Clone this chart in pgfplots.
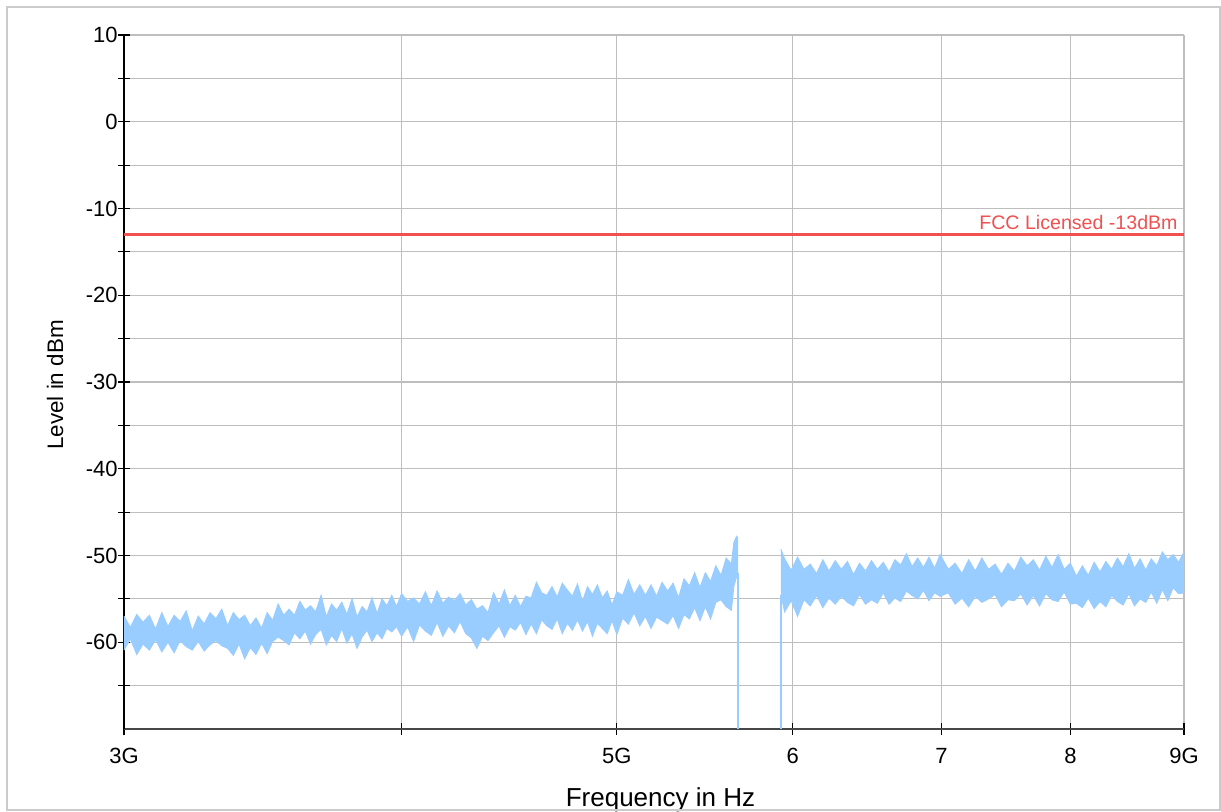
\documentclass[border=0pt]{standalone}
\usepackage{fontspec}
\setmainfont{Liberation Sans}
\usepackage{pgfplots}
\usepackage{pgfplotstable}
\pgfplotsset{compat=1.18}
\usepgfplotslibrary{fillbetween}
\definecolor{spec}{RGB}{153,204,255}
\definecolor{fcc}{RGB}{240,80,80}
\definecolor{gridc}{RGB}{190,190,190}

% Segment A: 3 GHz to 5.669 GHz (f in GHz, upper and lower edge of the noise band in dBm)
\pgfplotstableread{
f up lo
3.00 -57.0 -60.9
3.02 -58.3 -59.6
3.04 -56.8 -61.4
3.06 -57.7 -60.2
3.08 -56.9 -60.9
3.10 -58.5 -59.7
3.12 -56.6 -61.1
3.14 -58.2 -60.0
3.16 -56.9 -61.2
3.18 -57.6 -59.8
3.20 -56.4 -60.5
3.22 -58.7 -60.9
3.24 -57.0 -59.9
3.26 -57.9 -61.0
3.28 -56.6 -60.3
3.30 -57.3 -59.8
3.32 -56.2 -60.4
3.34 -58.1 -60.7
3.36 -56.6 -61.5
3.38 -57.4 -60.2
3.40 -56.9 -61.9
3.42 -58.1 -60.6
3.44 -57.2 -61.4
3.46 -58.4 -60.1
3.48 -56.6 -61.3
3.50 -57.5 -59.9
3.52 -55.6 -59.4
3.54 -56.9 -59.8
3.56 -56.2 -60.3
3.58 -56.9 -58.9
3.60 -55.3 -59.6
3.62 -56.3 -58.7
3.64 -55.8 -60.2
3.66 -56.5 -59.1
3.68 -54.6 -58.5
3.70 -57.1 -60.3
3.72 -55.6 -59.2
3.74 -56.3 -59.9
3.76 -55.4 -58.4
3.78 -56.8 -60.1
3.80 -55.0 -59.0
3.82 -57.1 -60.7
3.84 -55.9 -59.4
3.86 -56.5 -58.6
3.88 -54.9 -59.9
3.90 -56.7 -58.9
3.92 -55.0 -59.6
3.94 -55.8 -58.4
3.96 -54.6 -58.8
3.98 -55.9 -58.2
4.00 -54.4 -59.3
4.025 -55.3 -58.2
4.05 -54.9 -59.9
4.075 -55.6 -58.0
4.10 -54.2 -58.7
4.125 -55.8 -59.2
4.15 -54.1 -57.7
4.175 -55.5 -59.3
4.20 -54.8 -58.1
4.225 -55.2 -58.9
4.25 -54.4 -57.6
4.275 -55.7 -59.0
4.30 -55.1 -59.5
4.325 -56.2 -60.7
4.35 -55.8 -59.3
4.375 -56.6 -59.8
4.40 -54.3 -58.9
4.425 -55.6 -58.1
4.45 -54.0 -59.4
4.475 -55.8 -58.2
4.50 -54.6 -58.6
4.525 -55.9 -57.7
4.55 -54.7 -59.1
4.575 -54.9 -57.9
4.60 -53.1 -59.0
4.625 -54.3 -57.4
4.65 -54.6 -58.1
4.675 -53.6 -58.5
4.70 -54.8 -57.3
4.725 -53.2 -59.0
4.75 -54.0 -57.8
4.775 -54.7 -58.6
4.80 -53.3 -57.4
4.825 -55.3 -58.7
4.85 -53.6 -57.6
4.875 -54.5 -59.3
4.90 -53.4 -57.8
4.925 -54.9 -58.4
4.95 -54.1 -59.0
4.975 -55.7 -57.5
5.00 -54.2 -59.1
5.03 -54.6 -57.2
5.06 -52.8 -57.9
5.09 -54.5 -56.6
5.12 -53.4 -58.1
5.15 -54.6 -57.0
5.18 -53.4 -58.4
5.21 -54.7 -57.1
5.24 -53.1 -57.5
5.27 -54.1 -57.9
5.30 -53.2 -56.9
5.33 -54.9 -58.4
5.36 -52.7 -56.8
5.39 -53.5 -57.3
5.42 -52.0 -56.0
5.45 -53.7 -57.5
5.48 -52.0 -55.9
5.51 -53.0 -57.3
5.54 -51.2 -55.4
5.57 -52.3 -55.1
5.60 -50.3 -55.9
5.63 -51.0 -56.3
5.645 -48.5 -53.5
5.66 -47.8 -52.5
5.669 -48.0 -52.0
}\segA

% Segment B: 5.927 GHz to 9 GHz
\pgfplotstableread{
f up lo
5.927 -49.3 -54.5
5.95 -50.4 -56.5
5.99 -51.7 -55.2
6.03 -50.2 -57.0
6.07 -51.6 -55.1
6.11 -51.0 -55.8
6.15 -52.1 -54.6
6.19 -50.5 -56.0
6.23 -51.8 -54.9
6.27 -50.6 -55.6
6.31 -51.6 -54.7
6.35 -50.7 -55.4
6.39 -52.2 -55.8
6.43 -50.9 -54.5
6.47 -51.8 -55.6
6.51 -50.6 -55.1
6.55 -51.6 -55.5
6.59 -50.8 -54.3
6.63 -51.9 -55.6
6.67 -50.5 -54.9
6.71 -51.1 -55.3
6.75 -49.8 -54.1
6.79 -51.3 -54.6
6.83 -50.3 -55.0
6.87 -51.4 -54.0
6.91 -50.2 -55.2
6.95 -51.5 -54.3
6.99 -49.9 -54.7
7.05 -51.6 -54.3
7.10 -50.9 -55.6
7.15 -52.1 -54.9
7.20 -50.5 -55.9
7.25 -51.8 -54.7
7.30 -50.3 -55.4
7.35 -51.6 -55.0
7.40 -51.0 -54.5
7.45 -52.2 -55.9
7.50 -50.9 -55.1
7.55 -51.8 -55.2
7.60 -50.2 -54.4
7.65 -51.2 -55.7
7.70 -50.5 -54.6
7.75 -51.7 -55.8
7.80 -50.1 -54.4
7.85 -51.4 -55.1
7.90 -49.9 -55.3
7.95 -51.6 -54.2
8.00 -50.9 -55.6
8.05 -52.4 -55.5
8.10 -51.2 -56.0
8.15 -52.3 -54.9
8.20 -50.8 -56.1
8.25 -51.9 -55.3
8.30 -50.7 -55.9
8.35 -51.6 -54.6
8.40 -50.3 -55.3
8.45 -51.3 -55.7
8.50 -49.8 -54.4
8.55 -51.5 -55.8
8.60 -50.4 -55.0
8.65 -51.7 -55.4
8.70 -50.4 -54.2
8.75 -51.2 -55.5
8.80 -49.6 -53.9
8.85 -50.5 -55.2
8.90 -49.9 -53.7
8.95 -50.8 -54.4
9.00 -49.6 -54.3
}\segB

\begin{document}
\begin{tikzpicture}
\begin{axis}[
  scale only axis,
  width=530pt, height=347pt,
  xmode=log,
  xmin=3, xmax=9, ymin=-70, ymax=10,
  xtick={3,4,5,6,7,8,9},
  xticklabels={3G,,5G,6,7,8,9G},
  minor xtick={},
  ytick={-60,-50,-40,-30,-20,-10,0,10},
  yticklabels={-60,-50,-40,-30,-20,-10,0,10},
  minor ytick={-65,-55,-45,-35,-25,-15,-5,5},
  grid=both,
  major grid style={gridc, line width=0.6pt},
  minor grid style={gridc, line width=0.6pt},
  axis x line=bottom, axis y line=left,
  axis line style={-},
  x axis line style={black!72, line width=1pt},
  y axis line style={black, line width=0.8pt},
  tick align=center,
  major tick length=6pt, minor tick length=6pt,
  tick style={black, line width=0.6pt},
  tick label style={font=\fontsize{11}{13}\selectfont, black},
  xticklabel style={inner sep=0pt, anchor=north, yshift=-6.5pt},
  yticklabel style={inner sep=0pt, anchor=east, xshift=0pt},
  xlabel={Frequency in Hz},
  ylabel={Level in dBm},
  xlabel style={font=\fontsize{13}{15}\selectfont, at={(axis description cs:0.5061,-0.111)}, anchor=base},
  ylabel style={font=\fontsize{11.2}{13}\selectfont, at={(axis description cs:-0.0651,0.4957)}, anchor=center},
]
\addplot[name path=AU, draw=spec, line width=0.5pt] table[x=f, y=up] {\segA};
\addplot[name path=AL, draw=spec, line width=0.5pt] table[x=f, y=lo] {\segA};
\addplot[fill=spec, draw=none] fill between[of=AU and AL];
\addplot[name path=BU, draw=spec, line width=0.5pt] table[x=f, y=up] {\segB};
\addplot[name path=BL, draw=spec, line width=0.5pt] table[x=f, y=lo] {\segB};
\addplot[fill=spec, draw=none] fill between[of=BU and BL];
\addplot[draw=spec, line width=0.6pt] coordinates {(5.669,-52.0) (5.669,-70)};
\addplot[draw=spec, line width=0.6pt] coordinates {(5.927,-70) (5.927,-54.5)};
\addplot[draw=fcc, line width=1.3pt] coordinates {(3,-13) (9,-13)};
\node[anchor=base east, inner sep=0pt, text=fcc, font=\fontsize{9.8}{12}\selectfont, xshift=-3pt, yshift=2.3pt] at (axis cs:9,-13) {FCC Licensed -13dBm};
\end{axis}
\draw[gridc!80, line width=0.6pt] (-58.5pt,-40.5pt) rectangle (548pt,361pt);
\pgfresetboundingbox
\path[use as bounding box] (-62pt,-41.5pt) rectangle (548.5pt,364.5pt);
\end{tikzpicture}
\end{document}
